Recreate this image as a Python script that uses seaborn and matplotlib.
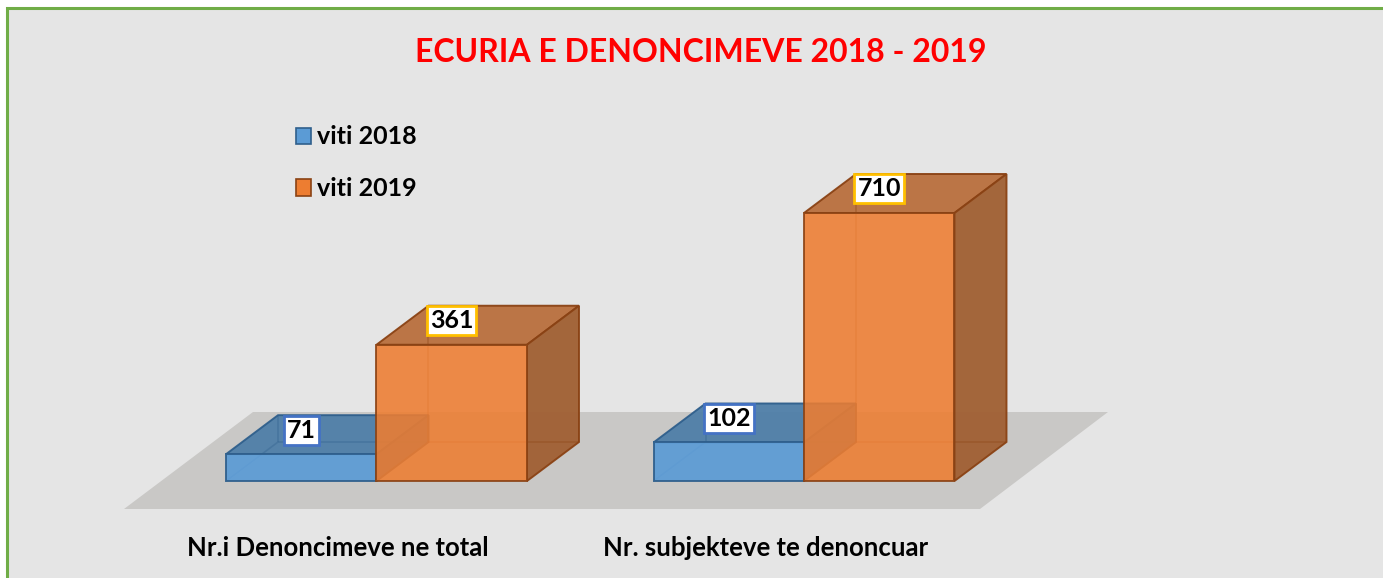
import numpy as np
import pandas as pd
import matplotlib
matplotlib.use("Agg")
import matplotlib.pyplot as plt
import matplotlib.patches as mpatches
from matplotlib.transforms import ScaledTranslation
import seaborn as sns

# ---- data ----
categories = ["Nr.i Denoncimeve ne total", "Nr. subjekteve te denoncuar"]
years = ["viti 2018", "viti 2019"]
values_2018 = [71, 102]
values_2019 = [361, 710]
title = "ECURIA E DENONCIMEVE 2018 - 2019"

df = pd.DataFrame({
    "category": categories * 2,
    "year": [years[0]] * 2 + [years[1]] * 2,
    "value": values_2018 + values_2019,
})

sns.set_theme(style="white")
plt.rcParams["font.family"] = ["Lato", "DejaVu Sans"]

W, H = 1383, 578
fig = plt.figure(figsize=(W / 100, H / 100), dpi=100, facecolor="white")

# panel with green border (top & left visible)
panel = mpatches.Rectangle((7 / W, -0.1), 1.2, 1 - 8 / H + 0.1, transform=fig.transFigure,
                           facecolor="#e5e5e5", edgecolor="#70ad47", lw=2.2, zorder=-10)
fig.patches.append(panel)

ax = fig.add_axes([0, 0, 1, 1])
ax.set_facecolor("none")
ax.axis("off")

# pixel mapping
px_per_x = 427.5
x0_px = 376.5
px_per_y = 268 / 710
y0_px = 481

front_cols = {"viti 2018": "#5b9bd5", "viti 2019": "#ed7d31"}
top_cols = {"viti 2018": "#4f7fa8", "viti 2019": "#b96f3d"}
side_cols = {"viti 2018": "#44709a", "viti 2019": "#a05f32"}
edge_cols = {"viti 2018": "#2f5f8c", "viti 2019": "#8a4214"}
box_cols = {"viti 2018": "#4472c4", "viti 2019": "#ffc000"}

sns.barplot(data=df, x="category", y="value", hue="year", hue_order=years,
            order=categories, palette=front_cols, width=0.704, ax=ax,
            legend=False, saturation=1)
ax.set_xlim((0 - x0_px) / px_per_x, (W - x0_px) / px_per_x)
ax.set_ylim(-(H - y0_px) / px_per_y, y0_px / px_per_y)
ax.axis("off")

dx = 52 / px_per_x
dy = 39 / px_per_y

# floor
fl_front = -28 / px_per_y
fl_back = dy + 30 / px_per_y
floor = mpatches.Polygon([
    ((124 - x0_px) / px_per_x, fl_front),
    ((980 - x0_px) / px_per_x, fl_front),
    ((1108 - x0_px) / px_per_x, fl_back),
    ((253 - x0_px) / px_per_x, fl_back)],
    closed=True, facecolor="#c9c8c6", edgecolor="none", zorder=1)
ax.add_patch(floor)

for yi, (year, cont) in enumerate(zip(years, ax.containers)):
    base_z = 2 if yi == 0 else 4
    for bar in cont:
        xa = bar.get_x()
        xb = xa + bar.get_width()
        h = bar.get_height()
        bar.set_zorder(base_z + 1)
        bar.set_alpha(0.92 if yi == 0 else 0.88)
        bar.set_edgecolor(edge_cols[year])
        bar.set_linewidth(1.4)
        # top
        ax.add_patch(mpatches.Polygon([(xa, h), (xb, h), (xb + dx, h + dy), (xa + dx, h + dy)],
                                      closed=True, facecolor=top_cols[year], alpha=0.95,
                                      edgecolor=edge_cols[year], lw=1.4, zorder=base_z))
        # right side
        ax.add_patch(mpatches.Polygon([(xb, 0), (xb + dx, dy), (xb + dx, h + dy), (xb, h)],
                                      closed=True, facecolor=side_cols[year], alpha=0.95,
                                      edgecolor=edge_cols[year], lw=1.4, zorder=base_z))
        # hidden edges
        for (p, q) in [((xa, 0), (xa + dx, dy)), ((xa + dx, dy), (xb + dx, dy)),
                       ((xa + dx, dy), (xa + dx, h + dy))]:
            ax.plot([p[0], q[0]], [p[1], q[1]], color=edge_cols[year], lw=1.2,
                    alpha=0.35, zorder=base_z + 0.5, solid_capstyle="butt")
        # value label
        ax.text((xa + xb) / 2, h + 0.62 * dy, f"{int(h)}", ha="center", va="center",
                fontsize=18, fontweight="bold", color="black", zorder=8,
                bbox=dict(boxstyle="square,pad=0.12", facecolor="white",
                          edgecolor=box_cols[year], lw=2))

# category labels
off = ScaledTranslation(-38.5 / 100, 0, fig.dpi_scale_trans)
for i, c in enumerate(categories):
    ax.text(i, -(548 - y0_px) / px_per_y, c, ha="center", va="center",
            fontsize=18.5, fontweight="bold", color="black",
            transform=ax.transData + off)

# title
fig.text(700.5 / W, 1 - 52 / H, title, ha="center", va="center",
         fontsize=23, fontweight="bold", color="#ff0000")

# legend
handles = [mpatches.Patch(facecolor=front_cols[y], edgecolor=edge_cols[y], lw=1.2, label=y)
           for y in years]
leg = ax.legend(handles=handles, loc="upper left",
                bbox_to_anchor=(273 / W, 1 - 103 / H), bbox_transform=fig.transFigure,
                frameon=False, handlelength=0.62, handleheight=0.62, handletextpad=0.25,
                labelspacing=1.15, labelcolor="black",
                prop={"family": "Lato", "weight": "bold", "size": 18})

fig.savefig("out.png", dpi=100, facecolor="white")
